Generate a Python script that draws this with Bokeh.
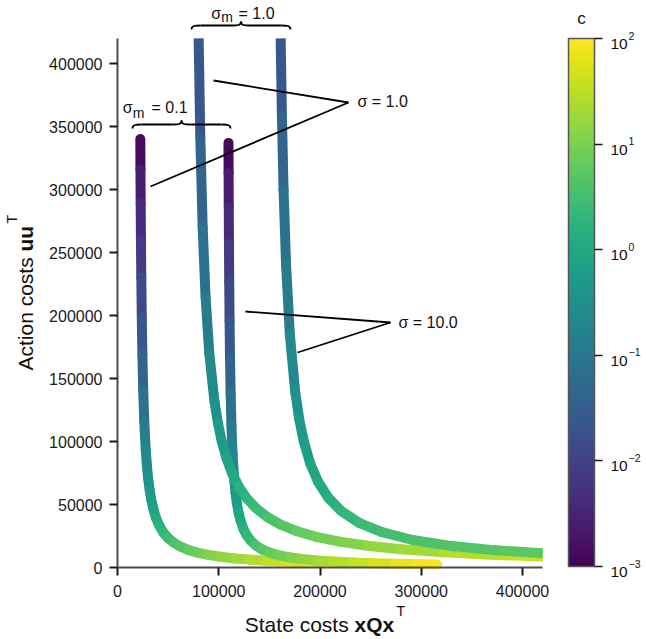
import math
from bokeh.plotting import figure
from bokeh.models import (ColumnDataSource, LogColorMapper, ColorBar, FixedTicker,
                          Range1d, Label, BasicTickFormatter)
from bokeh.palettes import Viridis256
from bokeh.embed import file_html
from bokeh.resources import INLINE

# ---------------- data ----------------
# sigma_m = 0.1, sigma = 1.0
sm01_s1_c = [0.001, 0.00178, 0.00316, 0.00562, 0.01, 0.0178, 0.0316, 0.0562, 0.1,
             0.133, 0.178, 0.237, 0.316, 0.422, 0.562, 0.75, 1.0,
             1.33, 1.78, 2.37, 3.16, 4.22, 5.62, 7.5, 10.0,
             13.3, 17.8, 23.7, 31.6, 42.2, 56.2, 75.0, 100.0]
sm01_s1_x = [22530, 22680, 22890, 23150, 23500, 23970, 24580, 25390, 26450,
             27140, 27920, 28990, 30220, 31750, 33520, 35680, 38190,
             41380, 45140, 49660, 55000, 61740, 69790, 78830, 89500,
             101770, 116300, 131080, 148300, 165460, 184800, 205980, 229600]
sm01_s1_y = [340000, 316000, 289000, 260000, 230000, 199000, 169000, 141000, 116000,
             103900, 93000, 81260, 71000, 61340, 53000, 45460, 39000,
             33050, 28000, 23660, 20000, 16730, 14000, 11830, 10000,
             8490, 7200, 6240, 5400, 4760, 4200, 3720, 3300]
# sigma_m = 0.1, sigma = 10.0
sm01_s10_c = sm01_s1_c
sm01_s10_x = [109620, 109730, 109880, 110080, 110330, 110680, 111140, 111750, 112550,
              113080, 113670, 114460, 115360, 116540, 117900, 119600, 121600,
              124190, 127290, 131490, 136600, 142800, 150340, 159380, 170390,
              182580, 197070, 213430, 232640, 252070, 274140, 293960, 315640]
sm01_s10_y = [337000, 313000, 286000, 257000, 227000, 196000, 166000, 138000, 113000,
              100850, 90000, 78800, 69000, 59320, 51000, 43440, 37000,
              31020, 26000, 21330, 17500, 14370, 11800, 9720, 8000,
              6690, 5600, 4730, 4000, 3460, 3000, 2680, 2400]
# sigma_m = 1.0, sigma = 1.0 (visible part: from the top of the y axis to the end of the x axis)
sm1_s1_c = [0.0178, 0.0316, 0.0562, 0.1, 0.178, 0.316,
            0.422, 0.562, 0.75, 1.0, 1.33, 1.78, 2.37, 3.16,
            4.22, 5.62, 7.5, 10.0, 13.3, 17.8, 23.7, 31.6, 40.0]
sm1_s1_x = [80140, 81820, 84110, 86950, 90650, 95730,
            99110, 103000, 107640, 113000, 119710, 127550, 136970, 148000,
            161080, 176450, 196050, 219340, 247010, 279900, 322170, 373000, 420000]
sm1_s1_y = [420000, 340000, 270000, 215000, 170000, 132000,
            114890, 100000, 86600, 75000, 64230, 55000, 46900, 40000,
            34060, 29000, 24380, 20500, 17240, 14500, 12040, 10000, 8650]
# sigma_m = 1.0, sigma = 10.0
sm1_s10_c = [0.0178, 0.0316, 0.0562, 0.1, 0.178, 0.316,
             0.422, 0.562, 0.75, 1.0, 1.33, 1.78, 2.37, 3.0,
             3.6, 4.3, 5.0, 5.6]
sm1_s10_x = [161140, 162330, 164000, 166500, 170220, 175430,
             179360, 184000, 190380, 198100, 208230, 220670, 238510, 261140,
             291490, 330470, 371390, 420000]
sm1_s10_y = [420000, 360000, 300000, 240000, 185000, 140000,
             118320, 100000, 82460, 68000, 55320, 45000, 35500, 28000,
             21820, 17000, 13800, 11280]

x_ticks = [0, 100000, 200000, 300000, 400000]
y_ticks = [0, 50000, 100000, 150000, 200000, 250000, 300000, 350000, 400000]
cbar_ticks = [1e-3, 1e-2, 1e-1, 1e0, 1e1, 1e2]
cbar_exponents = ["\u22123", "\u22122", "\u22121", "0", "1", "2"]

# ---------------- layout (canvas pixels) ----------------
CW, CH = 644, 637
AX_X0, AX_Y0 = 117, 567            # pixel of the data origin
PX_X = 405 / 400000                # pixels per x unit
PX_Y = 504 / 400000                # pixels per y unit
X_START = -AX_X0 / PX_X
X_END = X_START + CW / PX_X
Y_START = -(CH - AX_Y0) / PX_Y
Y_END = Y_START + CH / PX_Y
X_AXIS_MAX, Y_AXIS_MAX = 420000, 420000
FONT = "Liberation Sans"


def dx(cx):
    return X_START + cx / PX_X


def dy(cy):
    return Y_START + (CH - cy) / PX_Y


p = figure(frame_width=CW, frame_height=CH,
           x_range=Range1d(X_START, X_END), y_range=Range1d(Y_START, Y_END),
           output_backend="svg", toolbar_location=None,
           min_border_left=0, min_border_right=0, min_border_top=0, min_border_bottom=0)
p.outline_line_color = None
p.xgrid.visible = False
p.ygrid.visible = False

mapper = LogColorMapper(palette=Viridis256, low=1e-3, high=1e2)


def curve(xs, ys, cs, flat_top=False, flat_end=False):
    mids = [math.sqrt(a * b) for a, b in zip(cs[:-1], cs[1:])]
    d = dict(x0=xs[:-1], y0=ys[:-1], x1=xs[1:], y1=ys[1:], c=mids)
    n = len(mids)
    butt_idx = []
    if flat_top:
        butt_idx.append(0)
    if flat_end:
        butt_idx.append(n - 1)
    round_idx = [i for i in range(n) if i not in butt_idx]
    if butt_idx:
        sub = {k: [v[i] for i in butt_idx] for k, v in d.items()}
        p.segment('x0', 'y0', 'x1', 'y1', source=ColumnDataSource(sub),
                  line_color={'field': 'c', 'transform': mapper}, line_width=10, line_cap='butt')
    sub = {k: [v[i] for i in round_idx] for k, v in d.items()}
    p.segment('x0', 'y0', 'x1', 'y1', source=ColumnDataSource(sub),
              line_color={'field': 'c', 'transform': mapper}, line_width=10, line_cap='round')


curve(sm01_s1_x, sm01_s1_y, sm01_s1_c)
curve(sm01_s10_x, sm01_s10_y, sm01_s10_c)
curve(sm1_s1_x, sm1_s1_y, sm1_s1_c, flat_top=True, flat_end=True)
curve(sm1_s10_x, sm1_s10_y, sm1_s10_c, flat_top=True, flat_end=True)

# ---------------- axes (spines at the data origin) ----------------
p.xaxis.ticker = FixedTicker(ticks=x_ticks)
p.yaxis.ticker = FixedTicker(ticks=y_ticks)
p.xaxis.fixed_location = 0
p.yaxis.fixed_location = 0
p.yaxis.bounds = (0, Y_AXIS_MAX)
p.xaxis.bounds = (0, X_AXIS_MAX)
for ax in (p.xaxis, p.yaxis):
    ax.formatter = BasicTickFormatter(use_scientific=False)
    ax.axis_line_color = "#4d4d4d"
    ax.axis_line_width = 2
    ax.major_tick_line_color = "#1a1a1a"
    ax.major_tick_line_width = 2
    ax.major_tick_out = 8
    ax.major_tick_in = 0
    ax.minor_tick_line_color = None
    ax.major_label_text_font = FONT
    ax.major_label_text_font_size = "16px"
    ax.major_label_text_color = "#1a1a1a"
p.xaxis.major_label_standoff = 9
p.yaxis.major_label_standoff = 7


def lab(cx, cy, text, size="16px", align="left", baseline="alphabetic", bold=False, angle=0.0):
    p.add_layout(Label(x=dx(cx), y=dy(cy), text=text, text_font=FONT, text_font_size=size,
                       text_align=align, text_baseline=baseline,
                       text_font_style="bold" if bold else "normal",
                       text_color="#111111", angle=angle))


# axis titles
lab(354, 624, "State costs ", "21px", align="right")
lab(354, 624, "xQx", "21px", bold=True)
lab(396, 610, "T", "14px")
lab(25, 251, "Action costs ", "21px", align="right", angle=math.pi / 2)
lab(25, 251, "uu", "21px", bold=True, angle=math.pi / 2)
lab(11, 223, "T", "14px", angle=math.pi / 2)

# ---------------- colour bar ----------------
CB_LEFT, CB_TOP, CB_BOTTOM = 568, 38, 566
cb = ColorBar(color_mapper=mapper, ticker=FixedTicker(ticks=cbar_ticks), width=26,
              height=CB_BOTTOM - CB_TOP,
              location=(CB_LEFT, CH - CB_BOTTOM), padding=0, margin=0,
              bar_line_color="#555555", bar_line_width=1.5,
              major_tick_line_color="#1a1a1a", major_tick_line_width=1.5,
              major_tick_out=8, major_tick_in=0, minor_tick_line_color=None,
              major_label_text_alpha=0, major_label_text_font_size="10px",
              background_fill_color=None, border_line_color=None)
p.add_layout(cb)

step = (CB_BOTTOM - CB_TOP) / (len(cbar_ticks) - 1)
for k, ex in enumerate(cbar_exponents):
    ty = CB_BOTTOM - k * step
    lab(610, ty + 5.5, "10", "15.5px")
    lab(628, ty - 3, ex, "10.5px")
lab(581, 18, "c", "17px", align="center", baseline="middle")

# ---------------- annotations ----------------
def ann_line(a, b):
    p.segment(x0=[dx(a[0])], y0=[dy(a[1])], x1=[dx(b[0])], y1=[dy(b[1])],
              line_color="black", line_width=1.8)


ann_line((348, 102), (213, 80))
ann_line((348, 102), (150, 186))
lab(357, 101, "\u03c3 = 1.0", baseline="middle")

ann_line((390, 322), (245, 311))
ann_line((390, 322), (297, 352))
lab(398, 322, "\u03c3 = 10.0", baseline="middle")


def brace(l, r, y, h=4.0, run=9.0):
    xc = (l + r) / 2.0
    curves = [
        ((l, y + h), (l + run, y), (l, y), (l + run * 0.4, y)),
        ((xc - run, y), (xc, y - h), (xc - run * 0.4, y), (xc, y)),
        ((xc, y - h), (xc + run, y), (xc, y), (xc + run * 0.4, y)),
        ((r - run, y), (r, y + h), (r - run * 0.4, y), (r, y)),
    ]
    p.bezier(x0=[dx(c[0][0]) for c in curves], y0=[dy(c[0][1]) for c in curves],
             x1=[dx(c[1][0]) for c in curves], y1=[dy(c[1][1]) for c in curves],
             cx0=[dx(c[2][0]) for c in curves], cy0=[dy(c[2][1]) for c in curves],
             cx1=[dx(c[3][0]) for c in curves], cy1=[dy(c[3][1]) for c in curves],
             line_color="black", line_width=1.8)
    p.segment(x0=[dx(l + run), dx(xc + run)], y0=[dy(y), dy(y)],
              x1=[dx(xc - run), dx(r - run)], y1=[dy(y), dy(y)],
              line_color="black", line_width=1.8)


brace(132, 230, 124)
lab(122.3, 107, "\u03c3")
lab(132.3, 112, "m", "14px")
lab(151, 107, "= 0.1")

brace(191, 290, 25)
lab(210.7, 12.5, "\u03c3")
lab(220.7, 16.5, "m", "14px")
lab(238, 12.5, "= 1.0")

open("out.html", "w").write(file_html(p, INLINE))
